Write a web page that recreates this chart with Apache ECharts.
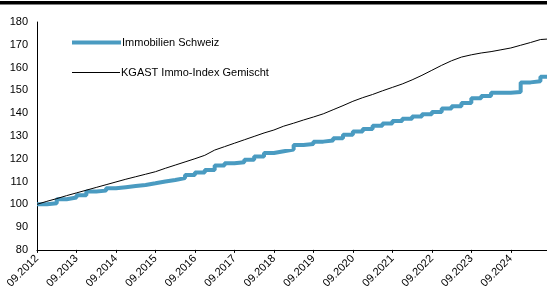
<!DOCTYPE html>
<html>
<head>
<meta charset="utf-8">
<script src="https://cdn.jsdelivr.net/npm/echarts@6/dist/echarts.min.js"></script>
<style>
html,body{margin:0;padding:0;background:#fff;}
#chart{width:547px;height:291px;}
</style>
</head>
<body>
<div id="chart"></div>
<script>
// quarterly readings, starting 09.2012 (month 0), one value every 3 months
var startYear = 2012;
var stepMonths = 3;
var tickMonths = [0, 12, 24, 36, 48, 60, 72, 84, 96, 108, 120, 132, 144];
var yTicks = [80, 90, 100, 110, 120, 130, 140, 150, 160, 170, 180];

var immoSchweiz = [100, 100.5, 102.2, 103, 104, 105.6, 106, 107, 107.5, 108,
	108.5, 109.2, 110, 110.7, 111.5, 112.9, 114, 115, 117, 118,
	118.5, 119.5, 121, 122.5, 123.3, 124, 126, 126.5, 127.5, 128,
	129, 130.5, 132, 133, 134.5, 135.5, 136.5, 137.5, 138.5, 139.5,
	140.5, 142, 143, 144.5, 146.5, 147.5, 149, 149, 149.3, 153.5,
	154, 156, 156];

var kgast = [100, 101.3, 102.5, 103.8, 105, 106.2, 107.4, 108.6, 109.8, 111,
	112.1, 113.2, 114.3, 115.8, 117.2, 118.6, 120, 121.5, 123.8, 125.3,
	126.8, 128.3, 129.8, 131.3, 132.6, 134.3, 135.6, 137, 138.3, 139.7,
	141.5, 143.3, 145.2, 146.8, 148.2, 149.8, 151.3, 152.8, 154.6, 156.6,
	158.8, 161, 163, 164.6, 165.6, 166.4, 167, 167.8, 168.6, 169.8,
	171, 172.3, 172.6];

function toPoints(arr){
	return arr.map(function(v, i){ return [i * stepMonths, v]; });
}

var chart = echarts.init(document.getElementById('chart'));
chart.setOption({
	animation : false,
	textStyle : { fontFamily : 'Liberation Sans, Arial, sans-serif' },
	graphic : [ {
		type : 'rect',
		shape : { x : 0, y : 1, width : 547, height : 3.5 },
		style : { fill : '#000' }
	} ],
	legend : [ {
		data : [ 'Immobilien Schweiz' ],
		left : 72,
		top : 37,
		padding : 0,
		icon : 'rect',
		itemWidth : 49,
		itemHeight : 4,
		textStyle : { fontSize : 11, color : '#000', padding : [0, 0, 0, -4] }
	}, {
		data : [ 'KGAST Immo-Index Gemischt' ],
		left : 72,
		top : 67,
		padding : 0,
		icon : 'rect',
		itemWidth : 48,
		itemHeight : 1,
		textStyle : { fontSize : 11, color : '#000', padding : [0, 0, 0, -4] }
	} ],
	grid : {
		left : 37,
		right : 0,
		top : 22,
		bottom : 41
	},
	xAxis : {
		type : 'value',
		min : 0,
		max : 155,
		interval : 12,
		splitLine : { show : false },
		axisLine : { lineStyle : { color : '#000', width : 1 } },
		axisTick : { show : true, length : 3, lineStyle : { color : '#000' } },
		axisLabel : {
			rotate : 45,
			fontSize : 11,
			color : '#000',
			margin : 7,
			showMaxLabel : false,
			formatter : function(v){
				if (tickMonths.indexOf(v) < 0) return '';
				return '09.' + (startYear + v / 12);
			}
		}
	},
	yAxis : {
		type : 'value',
		min : yTicks[0],
		max : yTicks[yTicks.length - 1],
		interval : 10,
		splitLine : { show : false },
		axisLine : { show : true, lineStyle : { color : '#000', width : 1 } },
		axisTick : { show : false },
		axisLabel : { fontSize : 11, color : '#000', margin : 9 }
	},
	series : [ {
		name : 'Immobilien Schweiz',
		type : 'line',
		step : 'end',
		symbol : 'none',
		color : '#4a9bc1',
		lineStyle : { width : 4, color : '#4a9bc1' },
		data : toPoints(immoSchweiz),
		z : 2
	}, {
		name : 'KGAST Immo-Index Gemischt',
		type : 'line',
		symbol : 'none',
		color : '#000',
		lineStyle : { width : 1, color : '#000' },
		data : toPoints(kgast),
		z : 3
	} ]
});
</script>
</body>
</html>
